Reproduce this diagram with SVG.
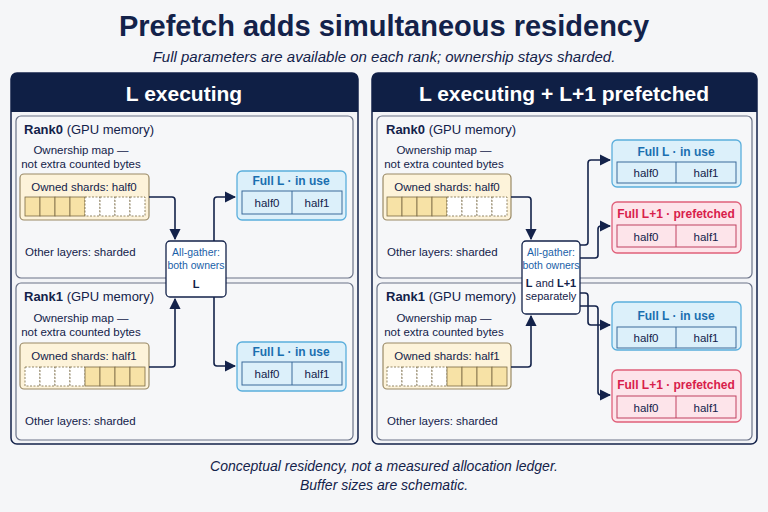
<svg xmlns="http://www.w3.org/2000/svg" width="768" height="512" viewBox="0 0 768 512">
<defs>
<marker id="ah" viewBox="0 0 10 10" refX="9" refY="5" markerWidth="7" markerHeight="7" orient="auto"><path d="M0,0 L10,5 L0,10 z" fill="#13224a"/></marker>
<style>
text{font-family:"Liberation Sans",Arial,sans-serif;fill:#13224a}
.panel{fill:#f3f4f7;stroke:#13224a;stroke-width:1.5}
.hdr{fill:#0f1f45}
.ht{fill:#fff;font-size:21px;font-weight:bold;text-anchor:middle}
.rank{fill:#f6f7f9;stroke:#6b7388;stroke-width:1.2}
.rl{font-size:13px}
.sm{font-size:11.5px}
.own{fill:#fdf3da;stroke:#9a8a66;stroke-width:1.2}
.cy{fill:#f7e2a6;stroke:#7a6a45;stroke-width:0.8}
.cw{fill:#fff;stroke:#7a6a45;stroke-width:0.8;stroke-dasharray:2,1.5}
.ag{fill:#fff;stroke:#13224a;stroke-width:1.3}
.agt{font-size:10.5px;fill:#1a5fa8;text-anchor:middle}
.blue{fill:#dcf0fa;stroke:#5aaedc;stroke-width:1.3}
.bt{fill:#1a6fb0;font-size:12px;font-weight:bold;text-anchor:middle}
.pink{fill:#fde4ea;stroke:#e0607a;stroke-width:1.3}
.pt{fill:#d8204a;font-size:12px;font-weight:bold;text-anchor:middle}
.hb{fill:none;stroke:#3a6a9a;stroke-width:1}
.hp{fill:none;stroke:#c04060;stroke-width:1}
.c{text-anchor:middle}
.conn path{fill:none;stroke:#13224a;stroke-width:1.6;marker-end:url(#ah)}
</style>
</defs>
<rect width="768" height="512" fill="#f5f6f8"/>
<text x="384" y="36" class="c" font-size="29" font-weight="bold">Prefetch adds simultaneous residency</text>
<text x="384" y="62" class="c" font-size="15" font-style="italic">Full parameters are available on each rank; ownership stays sharded.</text>

<g id="panel-left">
<rect class="panel" x="11" y="73" width="347" height="371" rx="6"/>
<path class="hdr" d="M11,112 V79 a6,6 0 0 1 6,-6 H352 a6,6 0 0 1 6,6 V112 z"/>
<text x="184" y="101" class="ht">L executing</text>
</g>
<g id="panel-right">
<rect class="panel" x="372" y="73" width="385" height="371" rx="6"/>
<path class="hdr" d="M372,112 V79 a6,6 0 0 1 6,-6 H751 a6,6 0 0 1 6,6 V112 z"/>
<text x="564" y="101" class="ht">L executing + L+1 prefetched</text>
</g>

<g id="L-rank0">
<rect class="rank" x="16" y="116" width="337" height="162" rx="5"/>
<text x="24" y="134" class="rl"><tspan font-weight="bold">Rank0</tspan> (GPU memory)</text>
<text x="81" y="154" class="sm c">Ownership map —</text>
<text x="81" y="168" class="sm c">not extra counted bytes</text>
<rect class="own" x="20" y="174" width="129" height="46" rx="4"/>
<text x="84" y="191" class="sm c">Owned shards: half0</text>
<rect class="cy" x="25" y="197" width="15" height="19"/><rect class="cy" x="40" y="197" width="15" height="19"/><rect class="cy" x="55" y="197" width="15" height="19"/><rect class="cy" x="70" y="197" width="15" height="19"/>
<rect class="cw" x="85" y="197" width="15" height="19"/><rect class="cw" x="100" y="197" width="15" height="19"/><rect class="cw" x="115" y="197" width="15" height="19"/><rect class="cw" x="130" y="197" width="15" height="19"/>
<text x="25" y="256" class="sm">Other layers: sharded</text>
</g>
<g id="L-rank1">
<rect class="rank" x="16" y="283" width="337" height="157" rx="5"/>
<text x="24" y="301" class="rl"><tspan font-weight="bold">Rank1</tspan> (GPU memory)</text>
<text x="81" y="322" class="sm c">Ownership map —</text>
<text x="81" y="336" class="sm c">not extra counted bytes</text>
<rect class="own" x="20" y="343" width="129" height="46" rx="4"/>
<text x="84" y="360" class="sm c">Owned shards: half1</text>
<rect class="cw" x="25" y="367" width="15" height="19"/><rect class="cw" x="40" y="367" width="15" height="19"/><rect class="cw" x="55" y="367" width="15" height="19"/><rect class="cw" x="70" y="367" width="15" height="19"/>
<rect class="cy" x="85" y="367" width="15" height="19"/><rect class="cy" x="100" y="367" width="15" height="19"/><rect class="cy" x="115" y="367" width="15" height="19"/><rect class="cy" x="130" y="367" width="15" height="19"/>
<text x="25" y="425" class="sm">Other layers: sharded</text>
</g>
<g id="L-allgather">
<rect class="ag" x="166" y="241" width="60" height="56" rx="4"/>
<text x="196" y="256" class="agt">All-gather:</text>
<text x="196" y="269" class="agt">both owners</text>
<text x="196" y="288" class="c" font-size="11" font-weight="bold">L</text>
</g>
<g id="L-full0">
<rect class="blue" x="237" y="171" width="109" height="49" rx="5"/>
<text x="291" y="185" class="bt">Full L · in use</text>
<rect class="hb" x="242" y="191" width="100" height="23"/><line x1="292" y1="191" x2="292" y2="214" stroke="#3a6a9a"/>
<text x="267" y="207" class="sm c">half0</text><text x="317" y="207" class="sm c">half1</text>
</g>
<g id="L-full1">
<rect class="blue" x="237" y="342" width="109" height="49" rx="5"/>
<text x="291" y="356" class="bt">Full L · in use</text>
<rect class="hb" x="242" y="362" width="100" height="23"/><line x1="292" y1="362" x2="292" y2="385" stroke="#3a6a9a"/>
<text x="267" y="378" class="sm c">half0</text><text x="317" y="378" class="sm c">half1</text>
</g>

<g id="R-rank0">
<rect class="rank" x="377" y="116" width="375" height="162" rx="5"/>
<text x="386" y="134" class="rl"><tspan font-weight="bold">Rank0</tspan> (GPU memory)</text>
<text x="444" y="154" class="sm c">Ownership map —</text>
<text x="444" y="168" class="sm c">not extra counted bytes</text>
<rect class="own" x="383" y="174" width="128" height="46" rx="4"/>
<text x="447" y="191" class="sm c">Owned shards: half0</text>
<rect class="cy" x="387" y="197" width="15" height="19"/><rect class="cy" x="402" y="197" width="15" height="19"/><rect class="cy" x="417" y="197" width="15" height="19"/><rect class="cy" x="432" y="197" width="15" height="19"/>
<rect class="cw" x="447" y="197" width="15" height="19"/><rect class="cw" x="462" y="197" width="15" height="19"/><rect class="cw" x="477" y="197" width="15" height="19"/><rect class="cw" x="492" y="197" width="15" height="19"/>
<text x="387" y="256" class="sm">Other layers: sharded</text>
</g>
<g id="R-rank1">
<rect class="rank" x="377" y="283" width="375" height="157" rx="5"/>
<text x="386" y="301" class="rl"><tspan font-weight="bold">Rank1</tspan> (GPU memory)</text>
<text x="444" y="322" class="sm c">Ownership map —</text>
<text x="444" y="336" class="sm c">not extra counted bytes</text>
<rect class="own" x="383" y="343" width="128" height="46" rx="4"/>
<text x="447" y="360" class="sm c">Owned shards: half1</text>
<rect class="cw" x="387" y="367" width="15" height="19"/><rect class="cw" x="402" y="367" width="15" height="19"/><rect class="cw" x="417" y="367" width="15" height="19"/><rect class="cw" x="432" y="367" width="15" height="19"/>
<rect class="cy" x="447" y="367" width="15" height="19"/><rect class="cy" x="462" y="367" width="15" height="19"/><rect class="cy" x="477" y="367" width="15" height="19"/><rect class="cy" x="492" y="367" width="15" height="19"/>
<text x="387" y="425" class="sm">Other layers: sharded</text>
</g>
<g id="R-allgather">
<rect class="ag" x="522" y="241" width="58" height="73" rx="4"/>
<text x="551" y="256" class="agt">All-gather:</text>
<text x="551" y="269" class="agt">both owners</text>
<text x="551" y="287" class="c" font-size="11"><tspan font-weight="bold">L</tspan> and <tspan font-weight="bold">L+1</tspan></text>
<text x="551" y="300" class="c" font-size="11">separately</text>
</g>
<g id="R-full0">
<rect class="blue" x="612" y="140" width="129" height="47" rx="5"/>
<text x="676" y="156" class="bt">Full L · in use</text>
<rect class="hb" x="617" y="162" width="119" height="21"/><line x1="676" y1="162" x2="676" y2="183" stroke="#3a6a9a"/>
<text x="646" y="177" class="sm c">half0</text><text x="706" y="177" class="sm c">half1</text>
</g>
<g id="R-pre0">
<rect class="pink" x="612" y="202" width="129" height="51" rx="5"/>
<text x="676" y="218" class="pt">Full L+1 · prefetched</text>
<rect class="hp" x="617" y="225" width="119" height="22"/><line x1="676" y1="225" x2="676" y2="247" stroke="#c04060"/>
<text x="646" y="241" class="sm c">half0</text><text x="706" y="241" class="sm c">half1</text>
</g>
<g id="R-full1">
<rect class="blue" x="612" y="302" width="129" height="48" rx="5"/>
<text x="676" y="320" class="bt">Full L · in use</text>
<rect class="hb" x="617" y="327" width="119" height="21"/><line x1="676" y1="327" x2="676" y2="348" stroke="#3a6a9a"/>
<text x="646" y="342" class="sm c">half0</text><text x="706" y="342" class="sm c">half1</text>
</g>
<g id="R-pre1">
<rect class="pink" x="612" y="370" width="129" height="52" rx="5"/>
<text x="676" y="389" class="pt">Full L+1 · prefetched</text>
<rect class="hp" x="617" y="396" width="119" height="22"/><line x1="676" y1="396" x2="676" y2="418" stroke="#c04060"/>
<text x="646" y="412" class="sm c">half0</text><text x="706" y="412" class="sm c">half1</text>
</g>

<g class="conn" id="connectors">
<path d="M149,197 H172 a3,3 0 0 1 3,3 V239"/>
<path d="M149,367 H172 a3,3 0 0 0 3,-3 V299"/>
<path d="M214,241 V200 a3,3 0 0 1 3,-3 H235"/>
<path d="M214,297 V363 a3,3 0 0 0 3,3 H235"/>
<path d="M511,197 H528 a3,3 0 0 1 3,3 V239"/>
<path d="M511,367 H528 a3,3 0 0 0 3,-3 V316"/>
<path d="M580,245 H585 a3,3 0 0 0 3,-3 V163 a3,3 0 0 1 3,-3 H610"/>
<path d="M580,258 H595 a3,3 0 0 0 3,-3 V229 a3,3 0 0 1 3,-3 H610"/>
<path d="M580,293 H585 a3,3 0 0 1 3,3 V322 a3,3 0 0 0 3,3 H610"/>
<path d="M580,306 H595 a3,3 0 0 1 3,3 V392 a3,3 0 0 0 3,3 H610"/>
</g>

<text x="384" y="471" class="c" font-size="14" font-style="italic">Conceptual residency, not a measured allocation ledger.</text>
<text x="384" y="490" class="c" font-size="14" font-style="italic">Buffer sizes are schematic.</text>
</svg>
